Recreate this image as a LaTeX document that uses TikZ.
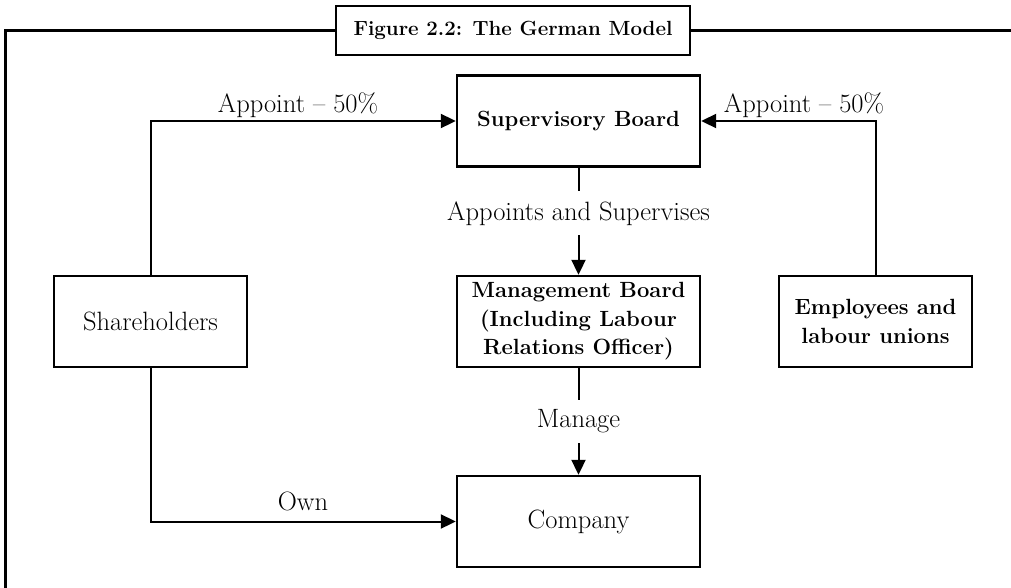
\documentclass[tikz,border=0pt]{standalone}
\usepackage{fontspec}
\usetikzlibrary{arrows.meta,calc}
\begin{document}
\begin{tikzpicture}[x=1pt,y=-1pt,
  box/.style={draw, line width=2.4pt, inner sep=0pt, align=center, minimum width=243pt, minimum height=91pt},
  sidebox/.style={box, minimum width=193pt},
  reg/.style={font=\fontsize{26.5}{30}\selectfont},
  bld/.style={font=\fontsize{22}{28.5}\selectfont\bfseries},
  conn/.style={line width=2pt},
  arr/.style={conn, -{Triangle[length=15pt,width=14pt]}},
  lbl/.style={reg, inner sep=0pt},
  gaplbl/.style={reg, fill=white, inner xsep=2pt, inner ysep=10pt},
  frame/.style={line width=3pt}
]
\useasboundingbox (0,0) rectangle (1011,587);
\node[draw, line width=2.4pt, minimum width=354pt, minimum height=49pt, inner sep=0pt,
      font=\fontsize{20.5}{24}\selectfont\bfseries] (title) at (513,30.5) {Figure 2.2: The German Model};
\coordinate (fl) at (5,30.5);
\coordinate (fb) at (5,588);
\coordinate (fr) at (1012,30.5);
\draw[frame] (fb) -- (fl) -- (title.west);
\draw[frame] (title.east) -- (fr);

\node[box,bld] (sup) at (578.5,121) {Supervisory Board};
\node[box,bld] (man) at (578.5,321.5) {Management Board\\(Including Labour\\Relations Officer)};
\node[box,reg] (co) at (578.5,521.5) {Company};
\node[sidebox,reg] (sh) at (150.5,321.5) {Shareholders};
\node[sidebox,bld] (emp) at (875.5,321.5) {Employees and\\labour unions};

\draw[arr] (sh.north) |- (sup.west);
\draw[arr] (emp.north) |- (sup.east);
\draw[arr] (sh.south) |- (co.west);
\draw[arr] (sup.south) -- node[gaplbl, pos=0.427] (as) {Appoints and Supervises} (man.north);
\draw[arr] (man.south) -- node[gaplbl, pos=0.5] (mg) {Manage} (co.north);

\node[lbl, anchor=base] (l1) at (298,112) {Appoint -- 50\%};
\node[lbl, anchor=base] (l2) at (804,112) {Appoint -- 50\%};
\node[lbl, anchor=base] (l3) at (303,510) {Own};
\end{tikzpicture}
\end{document}
